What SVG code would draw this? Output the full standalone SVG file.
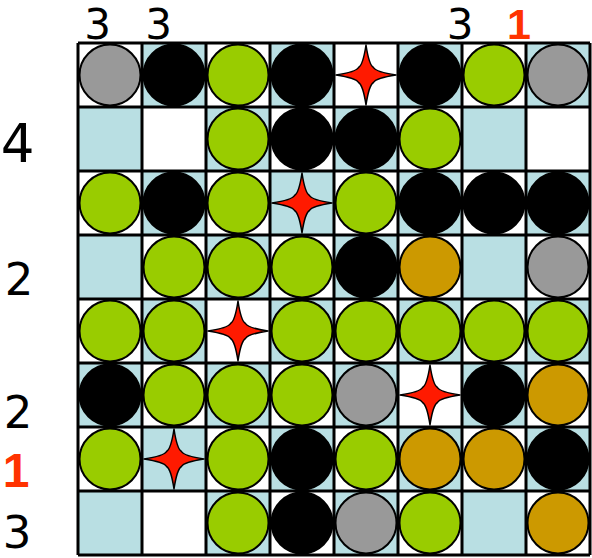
<svg xmlns="http://www.w3.org/2000/svg" width="592" height="558" viewBox="0 0 592 558">
<style>
.bg{fill:#ffffff}
.lb{fill:#b9dfe3}
.p{stroke:#000;stroke-width:2}
.g{fill:#99cc00}
.k{fill:#000000}
.s{fill:#999999}
.o{fill:#cc9900}
.grid{fill:none;stroke:#000;stroke-width:3}
.n{font-family:"DejaVu Sans",sans-serif;font-size:45px;fill:#000;text-anchor:middle}
.t{font-size:42px}
.r{font-family:"Liberation Sans",Arial,sans-serif;font-weight:bold;font-size:48px;fill:#ff3300;text-anchor:middle}
</style>
<defs>
<path id="star" d="M0,-30 Q3,-10 7.5,-7.5 Q10,-3 30,0 Q10,3 7.5,7.5 Q3,10 0,30 Q-3,10 -7.5,7.5 Q-10,3 -30,0 Q-10,-3 -7.5,-7.5 Q-3,-10 0,-30 Z" fill="#ff1a00" stroke="#000" stroke-width="1.5" stroke-linejoin="round"/>
</defs>
<rect width="592" height="558" fill="#fff"/>
<g id="board">
<rect class="bg" x="78" y="43" width="512" height="512"/>
<g class="lb">
<rect x="142" y="43" width="64" height="64"/><rect x="270" y="43" width="64" height="64"/><rect x="398" y="43" width="64" height="64"/><rect x="526" y="43" width="64" height="64"/>
<rect x="78" y="107" width="64" height="64"/><rect x="206" y="107" width="64" height="64"/><rect x="334" y="107" width="64" height="64"/><rect x="462" y="107" width="64" height="64"/>
<rect x="142" y="171" width="64" height="64"/><rect x="270" y="171" width="64" height="64"/><rect x="398" y="171" width="64" height="64"/><rect x="526" y="171" width="64" height="64"/>
<rect x="78" y="235" width="64" height="64"/><rect x="206" y="235" width="64" height="64"/><rect x="334" y="235" width="64" height="64"/><rect x="462" y="235" width="64" height="64"/>
<rect x="142" y="299" width="64" height="64"/><rect x="270" y="299" width="64" height="64"/><rect x="398" y="299" width="64" height="64"/><rect x="526" y="299" width="64" height="64"/>
<rect x="78" y="363" width="64" height="64"/><rect x="206" y="363" width="64" height="64"/><rect x="334" y="363" width="64" height="64"/><rect x="462" y="363" width="64" height="64"/>
<rect x="142" y="427" width="64" height="64"/><rect x="270" y="427" width="64" height="64"/><rect x="398" y="427" width="64" height="64"/><rect x="526" y="427" width="64" height="64"/>
<rect x="78" y="491" width="64" height="64"/><rect x="206" y="491" width="64" height="64"/><rect x="334" y="491" width="64" height="64"/><rect x="462" y="491" width="64" height="64"/>
</g>
<path class="grid" d="M78,43V555M142,43V555M206,43V555M270,43V555M334,43V555M398,43V555M462,43V555M526,43V555M590,43V555M78,43H590M78,107H590M78,171H590M78,235H590M78,299H590M78,363H590M78,427H590M78,491H590M78,555H590"/>
</g>
<g id="pieces">
<g id="row0">
<circle class="p s" cx="110" cy="75" r="30.5"/><circle class="p k" cx="174" cy="75" r="30.5"/><circle class="p g" cx="238" cy="75" r="30.5"/><circle class="p k" cx="302" cy="75" r="30.5"/>
<use href="#star" x="366" y="75"/>
<circle class="p k" cx="430" cy="75" r="30.5"/><circle class="p g" cx="494" cy="75" r="30.5"/><circle class="p s" cx="558" cy="75" r="30.5"/>
</g>
<g id="row1">
<circle class="p g" cx="238" cy="139" r="30.5"/><circle class="p k" cx="302" cy="139" r="30.5"/><circle class="p k" cx="366" cy="139" r="30.5"/><circle class="p g" cx="430" cy="139" r="30.5"/>
</g>
<g id="row2">
<circle class="p g" cx="110" cy="203" r="30.5"/><circle class="p k" cx="174" cy="203" r="30.5"/><circle class="p g" cx="238" cy="203" r="30.5"/>
<use href="#star" x="302" y="203"/>
<circle class="p g" cx="366" cy="203" r="30.5"/><circle class="p k" cx="430" cy="203" r="30.5"/><circle class="p k" cx="494" cy="203" r="30.5"/><circle class="p k" cx="558" cy="203" r="30.5"/>
</g>
<g id="row3">
<circle class="p g" cx="174" cy="267" r="30.5"/><circle class="p g" cx="238" cy="267" r="30.5"/><circle class="p g" cx="302" cy="267" r="30.5"/><circle class="p k" cx="366" cy="267" r="30.5"/><circle class="p o" cx="430" cy="267" r="30.5"/><circle class="p s" cx="558" cy="267" r="30.5"/>
</g>
<g id="row4">
<circle class="p g" cx="110" cy="331" r="30.5"/><circle class="p g" cx="174" cy="331" r="30.5"/>
<use href="#star" x="238" y="331"/>
<circle class="p g" cx="302" cy="331" r="30.5"/><circle class="p g" cx="366" cy="331" r="30.5"/><circle class="p g" cx="430" cy="331" r="30.5"/><circle class="p g" cx="494" cy="331" r="30.5"/><circle class="p g" cx="558" cy="331" r="30.5"/>
</g>
<g id="row5">
<circle class="p k" cx="110" cy="395" r="30.5"/><circle class="p g" cx="174" cy="395" r="30.5"/><circle class="p g" cx="238" cy="395" r="30.5"/><circle class="p g" cx="302" cy="395" r="30.5"/><circle class="p s" cx="366" cy="395" r="30.5"/>
<use href="#star" x="430" y="395"/>
<circle class="p k" cx="494" cy="395" r="30.5"/><circle class="p o" cx="558" cy="395" r="30.5"/>
</g>
<g id="row6">
<circle class="p g" cx="110" cy="459" r="30.5"/>
<use href="#star" x="174" y="459"/>
<circle class="p g" cx="238" cy="459" r="30.5"/><circle class="p k" cx="302" cy="459" r="30.5"/><circle class="p g" cx="366" cy="459" r="30.5"/><circle class="p o" cx="430" cy="459" r="30.5"/><circle class="p o" cx="494" cy="459" r="30.5"/><circle class="p k" cx="558" cy="459" r="30.5"/>
</g>
<g id="row7">
<circle class="p g" cx="238" cy="523" r="30.5"/><circle class="p k" cx="302" cy="523" r="30.5"/><circle class="p s" cx="366" cy="523" r="30.5"/><circle class="p g" cx="430" cy="523" r="30.5"/><circle class="p o" cx="558" cy="523" r="30.5"/>
</g>
</g>
<g id="labels">
<text class="n t" x="97.5" y="39">3</text>
<text class="n t" x="158.5" y="39">3</text>
<text class="n t" x="460" y="39">3</text>
<text class="r" x="519" y="39" style="font-size:43px">1</text>
<text class="n" x="17.5" y="162" style="font-size:53px">4</text>
<text class="n" x="19" y="295">2</text>
<text class="n" x="18" y="428">2</text>
<text class="r" x="16" y="487">1</text>
<text class="n" x="17" y="548">3</text>
</g>
</svg>
